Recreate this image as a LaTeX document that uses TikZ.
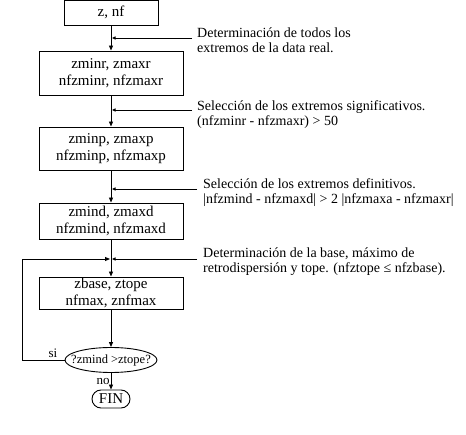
\documentclass[tikz,border=0pt]{standalone}
\usepackage{fontspec}
\setmainfont{Liberation Serif}
\usetikzlibrary{arrows.meta,shapes.geometric,shapes.misc}
\begin{document}
\begin{tikzpicture}[x=1pt,y=-1pt,
  every node/.style={font=\fontsize{14}{16}\selectfont},
  boxnode/.style={draw,line width=0.9pt,rectangle,inner sep=0pt,align=center,font=\fontsize{15}{17}\selectfont},
  flow/.style={line width=0.9pt,-{Triangle[length=5pt,width=4pt]}},
  annot/.style={line width=0.9pt,-{Triangle[length=3.5pt,width=3pt]}},
  notetext/.style={anchor=base west,inner sep=0pt,align=left,font=\fontsize{14}{15}\selectfont},
  lbl/.style={inner sep=0pt,font=\fontsize{13}{15}\selectfont}]
\useasboundingbox (0,0) rectangle (466,435);
% boxes
\node[boxnode,minimum width=94pt,minimum height=25pt] (b1) at (111,12.8) {z, nf};
\node[boxnode,minimum width=144pt,minimum height=44pt] (b2) at (111,73) {zminr, zmaxr\\nfzminr, nfzmaxr};
\node[boxnode,minimum width=144pt,minimum height=43pt] (b3) at (111,148.5) {zminp, zmaxp\\nfzminp, nfzmaxp};
\node[boxnode,minimum width=144pt,minimum height=36pt] (b4) at (111,221) {zmind, zmaxd\\nfzmind, nfzmaxd};
\node[boxnode,minimum width=144pt,minimum height=32pt] (b5) at (111,293) {zbase, ztope\\nfmax, znfmax};
\node[draw,line width=0.9pt,ellipse,inner xsep=-8pt,inner ysep=0pt,minimum width=92pt,minimum height=25pt,font=\fontsize{12.5}{14}\selectfont] (dec) at (111,360) {?zmind >ztope?};
\node[draw,line width=0.9pt,rounded rectangle,inner sep=0pt,minimum width=38pt,minimum height=18pt,font=\fontsize{15}{17}\selectfont] (fin) at (111,399) {FIN};
% annotations (base = last line)
\node[notetext] (t1) at (197,53) {Determinación de todos los\\extremos de la data real.};
\node[notetext] (t2) at (197,126) {Selección de los extremos significativos.\\(nfzminr - nfzmaxr) > 50};
\node[notetext] (t3) at (203,204) {Selección de los extremos definitivos.\\|nfzmind - nfzmaxd| > 2 |nfzmaxa - nfzmaxr|};
\node[notetext] (t4) at (203,273) {Determinación de la base, máximo de\\retrodispersión y tope. (nfztope ≤ nfzbase).};
\coordinate (a1) at (192,38);
\coordinate (a2) at (192,110);
\coordinate (a3) at (197,189);
\coordinate (a4) at (197,259);
\coordinate (m4) at (111,259);
\coordinate (lp) at (22,0);
% flow
\draw[flow] (b1.south) -- (b2.north);
\draw[flow] (b2.south) -- (b3.north);
\draw[flow] (b3.south) -- (b4.north);
\draw[line width=0.9pt] (b4.south) -- (m4);
\draw[flow] (m4) -- (b5.north);
\draw[flow] (b5.south) -- (dec.north);
\draw[flow] (dec.south) -- (fin.north);
\draw[flow] (dec.west) -- (dec.west -| lp) |- ([xshift=-1pt]m4);
\draw[annot] (a1) -- ([xshift=1pt]a1 -| b1.south);
\draw[annot] (a2) -- ([xshift=1pt]a2 -| b2.south);
\draw[annot] (a3) -- ([xshift=1pt]a3 -| b3.south);
\draw[annot] (a4) -- ([xshift=1pt]m4);
% labels
\node[lbl] (si) at (53,353) {si};
\node[lbl] (no) at (103,382) {no};
\end{tikzpicture}
\end{document}
